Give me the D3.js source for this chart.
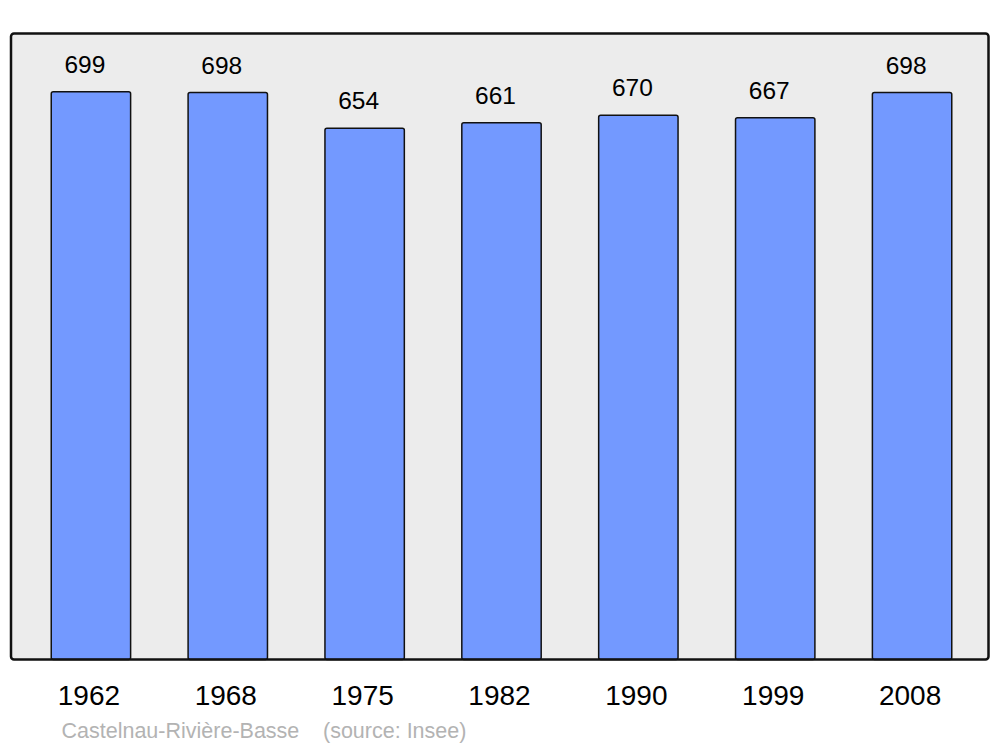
<!DOCTYPE html>
<html>
<head>
<meta charset="utf-8">
<script src="https://cdn.jsdelivr.net/npm/d3@7"></script>
<style>
  html, body { margin: 0; padding: 0; background: #ffffff; }
  svg { display: block; }
</style>
</head>
<body>
<svg id="chart" width="1000" height="747"></svg>
<script>
const years = ["1962", "1968", "1975", "1982", "1990", "1999", "2008"];
const population = [699, 698, 654, 661, 670, 667, 698];
const footerName = "Castelnau-Rivière-Basse";
const footerSource = "(source: Insee)";

const svg = d3.select("#chart");
const frame = { left: 11, right: 988.5, top: 33.5, bottom: 659.5 };

const x = d3.scaleBand()
  .domain(years)
  .range([22.5, 980.5])
  .paddingInner(0.42)
  .paddingOuter(0.21);

const y = d3.scaleLinear()
  .domain([0, d3.max(population) * 1.1])
  .range([frame.bottom, 35]);

// background frame
svg.append("rect")
  .attr("x", frame.left)
  .attr("y", frame.top)
  .attr("width", frame.right - frame.left)
  .attr("height", frame.bottom - frame.top)
  .attr("rx", 3)
  .attr("fill", "#ececec")
  .attr("stroke", "none");

const data = years.map((yr, i) => ({ year: yr, value: population[i] }));

svg.append("g").selectAll("rect")
  .data(data)
  .join("rect")
  .attr("x", d => x(d.year))
  .attr("y", d => y(d.value))
  .attr("width", x.bandwidth())
  .attr("height", d => frame.bottom - y(d.value))
  .attr("rx", 2)
  .attr("fill", "#7399ff")
  .attr("stroke", "#111")
  .attr("stroke-width", 1.5);

// value labels
svg.append("g").selectAll("text")
  .data(data)
  .join("text")
  .attr("x", d => x(d.year) + x.bandwidth() / 2 - 6)
  .attr("y", d => y(d.value) - 19)
  .attr("text-anchor", "middle")
  .attr("font-family", "'Liberation Sans', Arial, sans-serif")
  .attr("font-size", 24.5)
  .attr("fill", "#000")
  .text(d => d.value);

// frame border on top
svg.append("rect")
  .attr("x", frame.left)
  .attr("y", frame.top)
  .attr("width", frame.right - frame.left)
  .attr("height", frame.bottom - frame.top)
  .attr("rx", 3)
  .attr("fill", "none")
  .attr("stroke", "#111")
  .attr("stroke-width", 2.5);

// x axis labels
const xAxis = d3.axisBottom(x).tickSize(0).tickPadding(0);
const gx = svg.append("g")
  .attr("transform", `translate(-2, ${frame.bottom})`)
  .call(xAxis);
gx.select(".domain").remove();
gx.selectAll("text")
  .attr("y", 45.5)
  .attr("dy", 0)
  .attr("font-family", "'Liberation Sans', Arial, sans-serif")
  .attr("font-size", 28)
  .attr("fill", "#000");

// footer
svg.append("text")
  .attr("x", 61.5)
  .attr("y", 737.5)
  .attr("font-family", "'Liberation Sans', Arial, sans-serif")
  .attr("font-size", 21.5)
  .attr("fill", "#b3b3b3")
  .text(footerName);
svg.append("text")
  .attr("x", 323)
  .attr("y", 737.5)
  .attr("font-family", "'Liberation Sans', Arial, sans-serif")
  .attr("font-size", 21.5)
  .attr("fill", "#b3b3b3")
  .text(footerSource);
</script>
</body>
</html>
